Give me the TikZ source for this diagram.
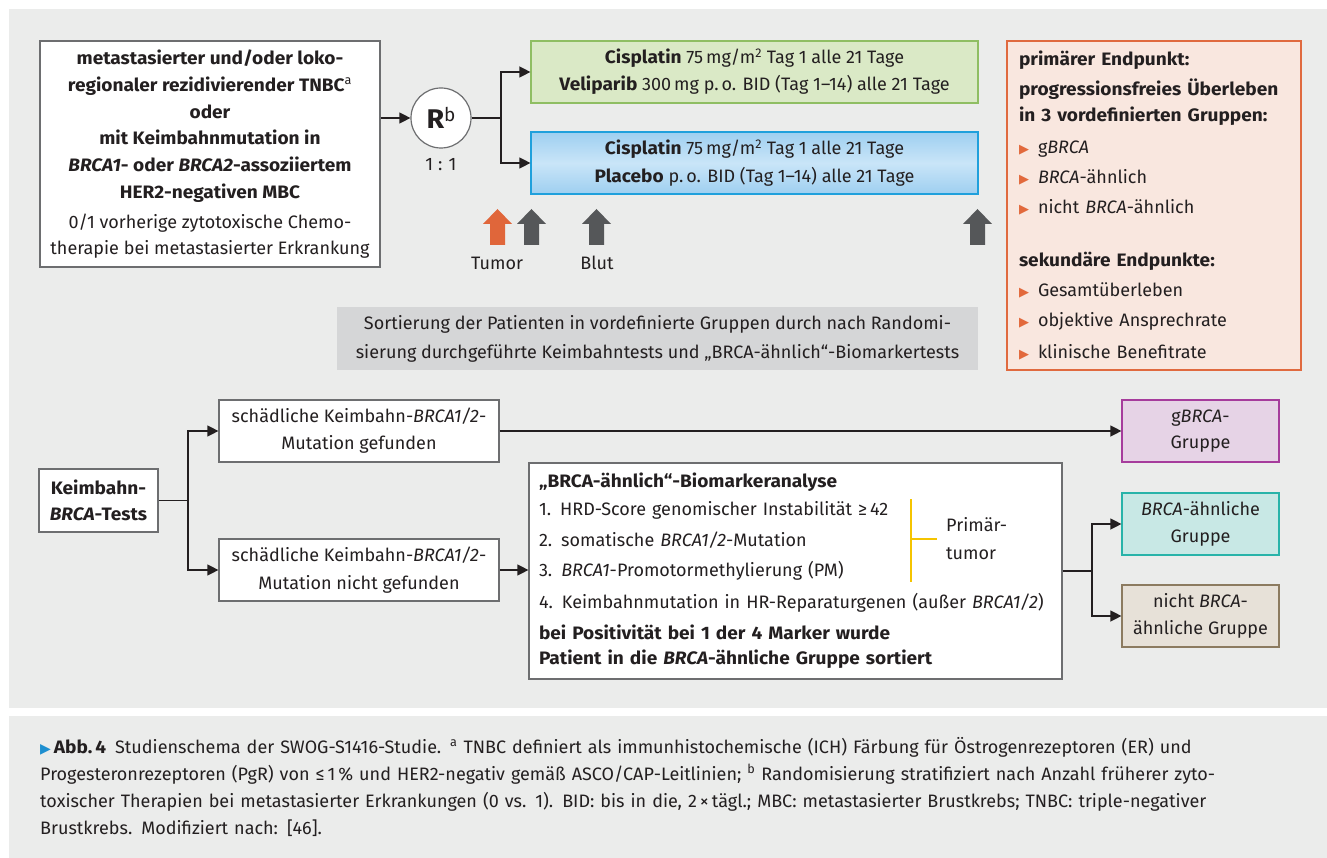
\documentclass[tikz,border=0pt]{standalone}
\usepackage{fontspec}
\setmainfont{Fira Sans}[BoldFeatures={FakeStretch=1.06}, BoldItalicFeatures={FakeStretch=1.06}]
\newfontfamily\symfont{DejaVu Sans}
\usetikzlibrary{arrows.meta,calc}

\definecolor{panelc}{HTML}{EBECEB}
\definecolor{textc}{HTML}{231F20}
\definecolor{linec}{HTML}{231F20}
\definecolor{boxline}{HTML}{6D6E70}
\definecolor{greenfill}{HTML}{DAE9C6}
\definecolor{greenline}{HTML}{8FBE63}
\definecolor{bluetop}{HTML}{9ECFF0}
\definecolor{bluemid}{HTML}{C9E5F8}
\definecolor{blueline}{HTML}{1FA0DC}
\definecolor{endfill}{HTML}{F9E7DF}
\definecolor{endline}{HTML}{E06A3F}
\definecolor{bulorange}{HTML}{E2693C}
\definecolor{sortfill}{HTML}{D5D6D7}
\definecolor{arrorange}{HTML}{E0663A}
\definecolor{arrgray}{HTML}{555759}
\definecolor{gfill}{HTML}{E6D3E6}
\definecolor{gline}{HTML}{A63C9C}
\definecolor{simfill}{HTML}{C8E8E5}
\definecolor{simline}{HTML}{28B3A9}
\definecolor{nonfill}{HTML}{E7E1D8}
\definecolor{nonline}{HTML}{8C7B60}
\definecolor{bracketc}{HTML}{F5C400}
\definecolor{capblue}{HTML}{1E8FD0}

\newcommand\bul{\makebox[19pt][l]{\textcolor{bulorange}{\symfont\fontsize{13}{13}\selectfont ▶}}}
\newcommand\capline[2]{\makebox[#1][s]{#2}}

\begin{document}
\begin{tikzpicture}[x=1pt,y=-1pt,
  font=\fontsize{18}{26}\selectfont, text=textc,
  box/.style={draw=boxline, line width=1.2pt, fill=white, inner sep=0pt, align=center},
  conn/.style={draw=linec, line width=1.3pt},
  arr/.style={conn, -{Triangle[length=11pt,width=11pt]}},
  blockup/.pic={\path[pic actions] (-7.5,0) -- (-7.5,-21) -- (-14.5,-21) -- (0,-36)
      -- (14.5,-21) -- (7.5,-21) -- (7.5,0) -- cycle;}
]
\useasboundingbox (0,0) rectangle (1327,858);
\fill[white] (0,0) rectangle (1327,858);
\fill[panelc] (9,9) rectangle (1327,708);
\fill[panelc] (9,716) rectangle (1327,858);

% ---------- study design ----------
\node[box, minimum width=340pt, minimum height=226pt, font=\fontsize{18}{26.8}\selectfont\bfseries]
  (lbox) at (210,154) {metastasierter und/oder loko-\\
  regionaler rezidivierender TNBC\textsuperscript{\mdseries a}\\
  oder\\
  mit Keimbahnmutation in\\
  \textit{BRCA1}- oder \textit{BRCA2}-assoziiertem\\
  HER2-negativen MBC\\[3.2pt]
  \mdseries 0/1 vorherige zytotoxische Chemo-\\[-0.8pt]
  \mdseries therapie bei metastasierter Erkrankung};

\node[box, circle, minimum size=60pt] (R) at (441,118)
  {{\fontsize{27}{27}\selectfont\bfseries R}\raisebox{7pt}{\fontsize{19}{19}\selectfont b}};
\node (ratio) at (441,165) {1 : 1};

\node[box, draw=greenline, fill=greenfill, minimum width=447pt, minimum height=62pt,
  font=\fontsize{18}{27}\selectfont] (green) at (754.5,72)
  {\textbf{Cisplatin} 75\,mg/m\textsuperscript{2} Tag 1 alle 21 Tage\\
   \textbf{Veliparib} 300\,mg p.\,o. BID (Tag 1–14) alle 21 Tage};

\node[box, draw=blueline, top color=bluetop, bottom color=bluetop, middle color=bluemid,
  minimum width=447pt, minimum height=62pt, font=\fontsize{18}{28}\selectfont] (blue) at (754.5,163)
  {\textbf{Cisplatin} 75\,mg/m\textsuperscript{2} Tag 1 alle 21 Tage\\
   \textbf{Placebo} p.\,o. BID (Tag 1–14) alle 21 Tage};

\coordinate (rsplit) at (501,118);
\draw[arr] (R.west -| lbox.east) -- (R.west);
\draw[arr] (R.east) -- (rsplit) |- (green.west);
\draw[arr] (rsplit) |- (blue.west);

% sampling time points
\pic[fill=arrorange] at (497.5,245) {blockup};
\pic[fill=arrgray] at (531.5,245) {blockup};
\pic[fill=arrgray] at (596.5,245) {blockup};
\pic[fill=arrgray] at (977.5,245) {blockup};
\node (tumorlbl) at (497,263) {Tumor};
\node (blutlbl) at (597,263) {Blut};

% endpoints
\node[box, draw=endline, fill=endfill, minimum width=294pt, minimum height=329pt,
  align=left, text width=270pt] (endp) at (1154,205.5)
  {\textbf{primärer Endpunkt:}\\[4pt]
   \textbf{progressionsfreies Überleben}\\
   \textbf{in 3 vordefinierten Gruppen:}\\[6pt]
   \bul g\textit{BRCA}\\[4pt]
   \bul \textit{BRCA}-ähnlich\\[4pt]
   \bul nicht \textit{BRCA}-ähnlich\\[27pt]
   \textbf{sekundäre Endpunkte:}\\[4pt]
   \bul Gesamtüberleben\\[4pt]
   \bul objektive Ansprechrate\\[6pt]
   \bul klinische Benefitrate};

% sorting note
\node[fill=sortfill, minimum width=641pt, minimum height=63pt, inner sep=0pt, align=center,
  font=\fontsize{18}{29}\selectfont] (sort) at (657.5,338.5)
  {Sortierung der Patienten in vordefinierte Gruppen durch nach Randomi-\\
   sierung durchgeführte Keimbahntests und „BRCA-ähnlich“-Biomarkertests};

% ---------- group assignment ----------
\node[box, minimum width=119pt, minimum height=63pt, font=\fontsize{18}{26}\selectfont\bfseries]
  (keim) at (98.5,500.5) {Keimbahn-\\\textit{BRCA}-Tests};

\node[box, minimum width=280pt, minimum height=62pt, font=\fontsize{18}{27}\selectfont]
  (found) at (359,431) {schädliche Keimbahn-\textit{BRCA1/2}-\\Mutation gefunden};
\node[box, minimum width=280pt, minimum height=62pt, font=\fontsize{18}{28}\selectfont]
  (notfound) at (359,570) {schädliche Keimbahn-\textit{BRCA1/2}-\\Mutation nicht gefunden};

\node[box, minimum width=533pt, minimum height=216pt, align=left, text width=513pt,
  font=\fontsize{18}{30}\selectfont] (bio) at (795.5,571)
  {\textbf{„BRCA-ähnlich“-Biomarkeranalyse}\\[-2pt]
   1. HRD-Score genomischer Instabilität ≥\,42\\[1pt]
   2. somatische \textit{BRCA1/2}-Mutation\\
   3. \textit{BRCA1}-Promotormethylierung (PM)\\[2pt]
   4. Keimbahnmutation in HR-Reparaturgenen (außer \textit{BRCA1/2})\\[1pt]
   \textbf{bei Positivität bei 1 der 4 Marker wurde}\\[-5pt]
   \textbf{Patient in die \textit{BRCA}-ähnliche Gruppe sortiert}};

\node[align=left, anchor=west, inner xsep=9pt, inner ysep=0pt, font=\fontsize{18}{28}\selectfont]
  (prim) at (937,539) {Primär-\\tumor};
\coordinate (brtop) at (911,499);
\coordinate (brbot) at (911,582);
\draw[bracketc, line width=2pt] (brtop) -- (brbot) (brtop |- prim.west) -- (prim.west);

\node[box, draw=gline, fill=gfill, minimum width=157pt, minimum height=62pt,
  font=\fontsize{18}{26}\selectfont] (ggroup) at (1200.5,431) {g\textit{BRCA}-\\Gruppe};
\node[box, draw=simline, fill=simfill, minimum width=157pt, minimum height=62pt,
  font=\fontsize{18}{27}\selectfont] (simgroup) at (1200.5,524) {\textit{BRCA}-ähnliche\\Gruppe};
\node[box, draw=nonline, fill=nonfill, minimum width=157pt, minimum height=62pt,
  font=\fontsize{18}{27}\selectfont] (nongroup) at (1200.5,616) {nicht \textit{BRCA}-\\ähnliche Gruppe};

\coordinate (ksplit) at (188,500.5);
\coordinate (bsplit) at (1092,571);
\draw[arr] (keim.east) -- (ksplit) |- (found.west);
\draw[arr] (ksplit) |- (notfound.west);
\draw[arr] (found.east) -- (ggroup.west);
\draw[arr] (notfound.east) -- (notfound.east -| bio.west);
\draw[arr] (bio.east) -- (bsplit) |- (simgroup.west);
\draw[arr] (bsplit) |- (nongroup.west);

% ---------- caption ----------
\node[anchor=west, align=left, text width=1260pt, inner sep=0pt,
  font=\fontsize{18}{27}\selectfont] (caption) at (40,786.5)
  {\capline{1222pt}{\textcolor{capblue}{\symfont\fontsize{14}{14}\selectfont ▶}\,\textbf{Abb.\,4}\enspace Studienschema der SWOG-S1416-Studie. \textsuperscript{a} TNBC definiert als immunhistochemische (ICH) Färbung für Östrogenrezeptoren (ER) und}\\
   \capline{1230pt}{Progesteronrezeptoren (PgR) von ≤\,1\,\% und HER2-negativ gemäß ASCO/CAP-Leitlinien; \textsuperscript{b} Randomisierung stratifiziert nach Anzahl früherer zyto-}\\
   \capline{1192pt}{toxischer Therapien bei metastasierter Erkrankungen (0 vs. 1). BID: bis in die, 2\,×\,tägl.; MBC: metastasierter Brustkrebs; TNBC: triple-negativer}\\
   Brustkrebs. Modifiziert nach: [46].};
\end{tikzpicture}
\end{document}
